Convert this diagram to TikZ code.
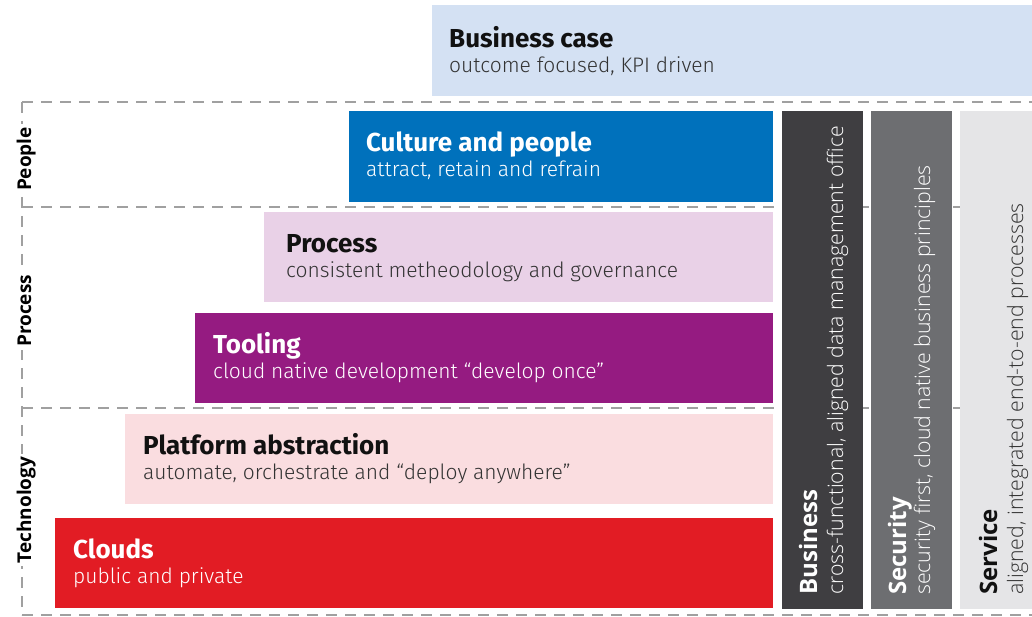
\documentclass[tikz,border=0pt]{standalone}
\usepackage{fontspec}
\setmainfont{Fira Sans}
\newfontfamily\osans{Open Sans}
\newfontfamily\firalight{Fira Sans Light}
\newfontfamily\osanslight{Open Sans Light}
\definecolor{bcase}{HTML}{D4E1F3}
\definecolor{cult}{HTML}{0071BC}
\definecolor{proc}{HTML}{E9D1E7}
\definecolor{tool}{HTML}{951B81}
\definecolor{plat}{HTML}{FADDE0}
\definecolor{cloud}{HTML}{E21C24}
\definecolor{colbus}{HTML}{3F3E41}
\definecolor{colsec}{HTML}{6D6E71}
\definecolor{colser}{HTML}{E5E5E7}
\definecolor{dashc}{HTML}{A0A0A0}
\definecolor{darktxt}{HTML}{111111}
\definecolor{subtxt}{HTML}{333333}
\tikzset{
  box/.style={rectangle, draw=none, inner sep=0pt, anchor=north west},
  ttl/.style={anchor=base west, inner sep=0pt, font=\fontsize{26}{28}\selectfont\bfseries},
  sub/.style={anchor=base west, inner sep=0pt, font=\firalight\fontsize{21}{23}\selectfont},
  guide/.style={dashc, line width=1.5pt, dash pattern=on 11pt off 8pt},
  side/.style={rotate=90, anchor=base, fill=white, inner sep=3pt, font=\osans\fontsize{19}{21}\selectfont\bfseries},
  ctl/.style={rotate=90, anchor=base west, inner sep=0pt, font=\osans\fontsize{24}{26}\selectfont\bfseries},
  csb/.style={rotate=90, anchor=base west, inner sep=0pt, font=\osanslight\fontsize{21.3}{23}\selectfont},
}
\begin{document}
\begin{tikzpicture}[x=1pt, y=-1pt]
\useasboundingbox (0,0) rectangle (1032,617);
% dashed guides
\coordinate (tl) at (22,102);
\coordinate (tr) at (1032,102);
\coordinate (bl) at (22,615);
\coordinate (br) at (1032,615);
\coordinate (m1l) at (22,207);
\coordinate (m1r) at (1032,207);
\coordinate (m2l) at (22,408);
\coordinate (m2r) at (1032,408);
\draw[guide] (tl) -- (tr);
\draw[guide] (bl) -- (br);
\draw[guide] (m1l) -- (m1r);
\draw[guide] (m2l) -- (m2r);
\draw[guide] (tl) -- (bl);
% side labels
\node[side] (lpeople) at (31,159) {People};
\node[side] (lprocess) at (31,311) {Process};
\node[side] (ltech) at (31,510) {Technology};
% business case
\node[box, fill=bcase, minimum width=600pt, minimum height=91pt] (bc) at (432,5) {};
\node[ttl, text=darktxt] (bct) at ([xshift=17pt, yshift=3pt]bc.west) {Business case};
\node[sub, text=subtxt] (bcs) at ([xshift=17pt, yshift=-22pt]bc.west) {outcome focused, KPI driven};
% culture
\node[box, fill=cult, minimum width=424pt, minimum height=91pt] (cu) at (349,111) {};
\node[ttl, text=white] (cut) at ([xshift=17pt, yshift=5pt]cu.west) {Culture and people};
\node[sub, text=white] (cus) at ([xshift=17pt, yshift=-20pt]cu.west) {attract, retain and refrain};
% process
\node[box, fill=proc, minimum width=509pt, minimum height=90pt] (pr) at (264,212) {};
\node[ttl, text=darktxt] (prt) at ([xshift=22pt, yshift=5pt]pr.west) {Process};
\node[sub, text=subtxt] (prs) at ([xshift=22pt, yshift=-20pt]pr.west) {consistent metheodology and governance};
% tooling
\node[box, fill=tool, minimum width=578pt, minimum height=90pt] (to) at (195,313) {};
\node[ttl, text=white] (tot) at ([xshift=18pt, yshift=5pt]to.west) {Tooling};
\node[sub, text=white] (tos) at ([xshift=18pt, yshift=-20pt]to.west) {cloud native development “develop once”};
% platform
\node[box, fill=plat, minimum width=648pt, minimum height=90pt] (pl) at (125,414) {};
\node[ttl, text=darktxt] (plt) at ([xshift=18pt, yshift=5pt]pl.west) {Platform abstraction};
\node[sub, text=subtxt] (pls) at ([xshift=18pt, yshift=-20pt]pl.west) {automate, orchestrate and “deploy anywhere”};
% clouds
\node[box, fill=cloud, minimum width=718pt, minimum height=90pt] (cl) at (55,518) {};
\node[ttl, text=white] (clt) at ([xshift=18pt, yshift=5pt]cl.west) {Clouds};
\node[sub, text=white] (cls) at ([xshift=18pt, yshift=-20pt]cl.west) {public and private};
% columns
\node[box, fill=colbus, minimum width=81pt, minimum height=498pt] (cb) at (782,111) {};
\node[box, fill=colsec, minimum width=81pt, minimum height=498pt] (cs) at (871,111) {};
\node[box, fill=colser, minimum width=72pt, minimum height=498pt] (cv) at (960,111) {};
\node[ctl, text=white] (cbt) at (817,595) {Business};
\node[csb, text=white] (cbs) at (843,595) {cross-functional, aligned data management office};
\node[ctl, text=white] (cst) at (906,595) {Security};
\node[csb, text=white] (css) at (930,595) {security first, cloud native business principles};
\node[ctl, text=darktxt] (cvt) at (997,595) {Service};
\node[csb, text=subtxt] (cvs) at (1023,595) {aligned, integrated end-to-end processes};
\end{tikzpicture}
\end{document}
